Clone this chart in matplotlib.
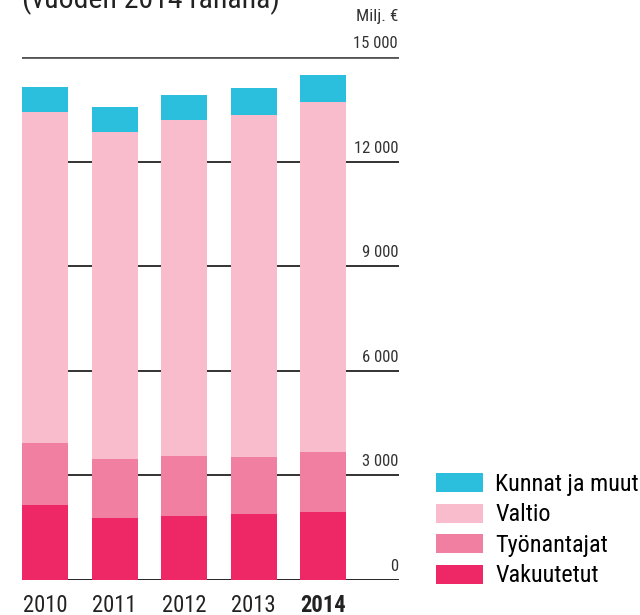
import matplotlib
matplotlib.use("Agg")
import matplotlib.pyplot as plt
from matplotlib.patches import Patch
import numpy as np

years = ["2010", "2011", "2012", "2013", "2014"]
vakuutetut = [2160, 1790, 1840, 1900, 1960]
tyonantajat = [1775, 1690, 1720, 1635, 1720]
valtio = [9490, 9370, 9630, 9800, 10030]
kunnat = [720, 720, 720, 775, 775]
series_names = ["Vakuutetut", "Työnantajat", "Valtio", "Kunnat ja muut"]
colors = ["#ee2766", "#f07fa2", "#f8bccc", "#2bbfdd"]
yticks = [0, 3000, 6000, 9000, 12000, 15000]
ytick_labels = ["0", "3 000", "6 000", "9 000", "12 000", "15 000"]

FONT = ["Roboto Condensed", "DejaVu Sans"]
plt.rcParams["font.family"] = FONT

fig = plt.figure(figsize=(6.4, 6.15), dpi=100)
ax = fig.add_axes([22/640, 1 - 580/615, (399-22)/640, (580-57)/615])

x = np.arange(len(years))
width = 0.662
bottom = np.zeros(len(years))
for vals, c, name in zip([vakuutetut, tyonantajat, valtio, kunnat], colors, series_names):
    ax.bar(x, vals, width=width, bottom=bottom, color=c, zorder=3, label=name)
    bottom += np.array(vals)

ax.set_xlim(-0.331, 5.093)
ax.set_ylim(0, 15000)
for s in ax.spines.values():
    s.set_visible(False)
ax.set_xticks([])
ax.set_yticks([])

for yv, lab in zip(yticks, ytick_labels):
    if yv in (0, 15000):
        lw, col = 2.0, ("#111111" if yv == 0 else "#555555")
    else:
        lw, col = 1.3, "#222222"
    ax.axhline(yv, color=col, lw=lw, zorder=1)
    ax.annotate(lab, xy=(1, yv), xycoords=("axes fraction", "data"),
                xytext=(-1, 6), textcoords="offset pixels",
                ha="right", va="bottom", fontsize=12, color="#333333")

ax.annotate("Milj. €", xy=(1, 15000), xycoords=("axes fraction", "data"),
            xytext=(-1, 33), textcoords="offset pixels",
            ha="right", va="bottom", fontsize=12.5, color="#333333")

for i, y in enumerate(years):
    ax.annotate(y, xy=(x[i], 0), xycoords="data", xytext=(0, -25),
                textcoords="offset pixels", ha="center", va="center",
                fontsize=16.3, color="#222222",
                fontweight="bold" if y == "2014" else "normal")

fig.text(22/640, 1 - 8/615, "(vuoden 2014 rahana)", ha="left", va="baseline",
         fontsize=21.5, color="#222222")

handles = [Patch(facecolor=c, edgecolor="none") for c in colors][::-1]
fig.legend(handles, series_names[::-1], loc="upper left",
           bbox_to_anchor=(436/640, 1 - 473/615), frameon=False,
           fontsize=17.4, handlelength=1.95, handleheight=0.83,
           labelspacing=0.31, handletextpad=0.5, borderpad=0, borderaxespad=0)

fig.savefig("out.png", dpi=100)
